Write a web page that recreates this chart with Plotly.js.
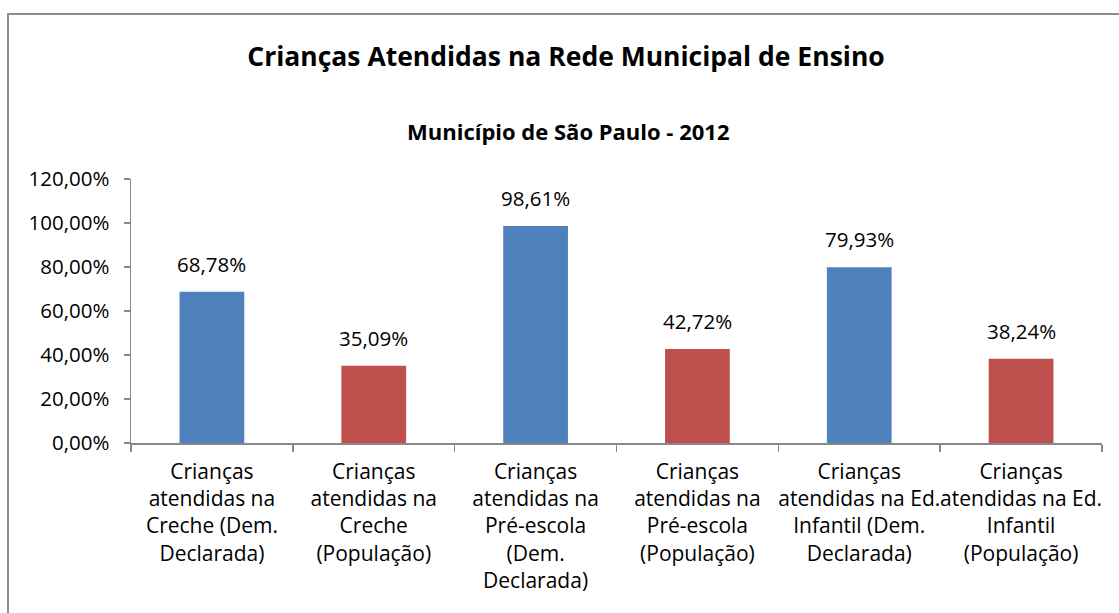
<!DOCTYPE html>
<html>
<head>
<meta charset="utf-8">
<script src="https://cdn.plot.ly/plotly-3.0.1.min.js"></script>
<style>
html,body{margin:0;padding:0;background:#fff;overflow:hidden;}
#chart{width:1119px;height:613px;}
</style>
</head>
<body>
<div id="chart"></div>
<script>
var categories = [
  "Crianças<br>atendidas na<br>Creche (Dem.<br>Declarada)",
  "Crianças<br>atendidas na<br>Creche<br>(População)",
  "Crianças<br>atendidas na<br>Pré-escola<br>(Dem.<br>Declarada)",
  "Crianças<br>atendidas na<br>Pré-escola<br>(População)",
  "Crianças<br>atendidas na Ed.<br>Infantil (Dem.<br>Declarada)",
  "Crianças<br>atendidas na Ed.<br>Infantil<br>(População)"
];
var values = [0.6878, 0.3509, 0.9861, 0.4272, 0.7993, 0.3824];
var barColors = ["#4F81BD", "#C0504D", "#4F81BD", "#C0504D", "#4F81BD", "#C0504D"];
var yTicks = [0, 0.2, 0.4, 0.6, 0.8, 1.0, 1.2];
var titleText = "Crianças Atendidas na Rede Municipal de Ensino";
var subtitleText = "Município de São Paulo - 2012";

var FONT = "Open Sans, sans-serif";

var trace = {
  type: "bar",
  x: categories,
  y: values,
  marker: {color: barColors},
  hoverinfo: "none"
};

var annotations = values.map(function (v, i) {
  return {
    x: categories[i], y: v, xref: "x", yref: "y",
    text: (v * 100).toFixed(2).replace(".", ",") + "%",
    showarrow: false, yanchor: "bottom", yshift: 12,
    font: {family: FONT, size: 20.5, color: "#000"}
  };
});

annotations.push({
  xref: "paper", yref: "paper", x: (568 - 131) / 971, y: (443 - 131) / 264,
  text: "<b>" + subtitleText + "</b>", showarrow: false,
  xanchor: "center", yanchor: "middle",
  font: {family: FONT, size: 22, color: "#000"}
});

var layout = {
  width: 1119, height: 613,
  margin: {l: 131, r: 17, t: 179, b: 170},
  paper_bgcolor: "#fff", plot_bgcolor: "#fff",
  separators: ",.",
  showlegend: false,
  bargap: 0.6,
  title: {
    text: "<b>" + titleText + "</b>",
    font: {family: FONT, size: 26.5, color: "#000"},
    x: 566 / 1119, xanchor: "center", xref: "container",
    y: 1 - 57 / 613, yanchor: "middle", yref: "container"
  },
  xaxis: {
    type: "category",
    showline: true, linecolor: "#888", linewidth: 1.5,
    ticks: "outside", tickson: "boundaries", ticklen: 7, tickcolor: "#888", tickwidth: 1.5,
    tickfont: {family: FONT, size: 21, color: "#000"},
    ticklabelstandoff: 9,
    tickangle: 0, showgrid: false, zeroline: false, fixedrange: true
  },
  yaxis: {
    range: [0, 1.2],
    tickvals: yTicks, tickformat: ".2%",
    showline: true, linecolor: "#888", linewidth: 1.5,
    ticks: "outside", ticklen: 6, tickcolor: "#888", tickwidth: 1.5,
    tickfont: {family: FONT, size: 20.5, color: "#000"},
    ticklabelstandoff: 10,
    showgrid: false, zeroline: false, fixedrange: true
  },
  annotations: annotations,
  shapes: [{
    type: "rect", xref: "paper", yref: "paper", layer: "below",
    x0: (8 - 131) / 971, x1: (1300 - 131) / 971,
    y0: (443 - 700) / 264, y1: (443 - 14) / 264,
    line: {color: "#8c8c8c", width: 2}, fillcolor: "rgba(0,0,0,0)"
  }]
};

Plotly.newPlot("chart", [trace], layout, {displayModeBar: false, staticPlot: true});
</script>
</body>
</html>
